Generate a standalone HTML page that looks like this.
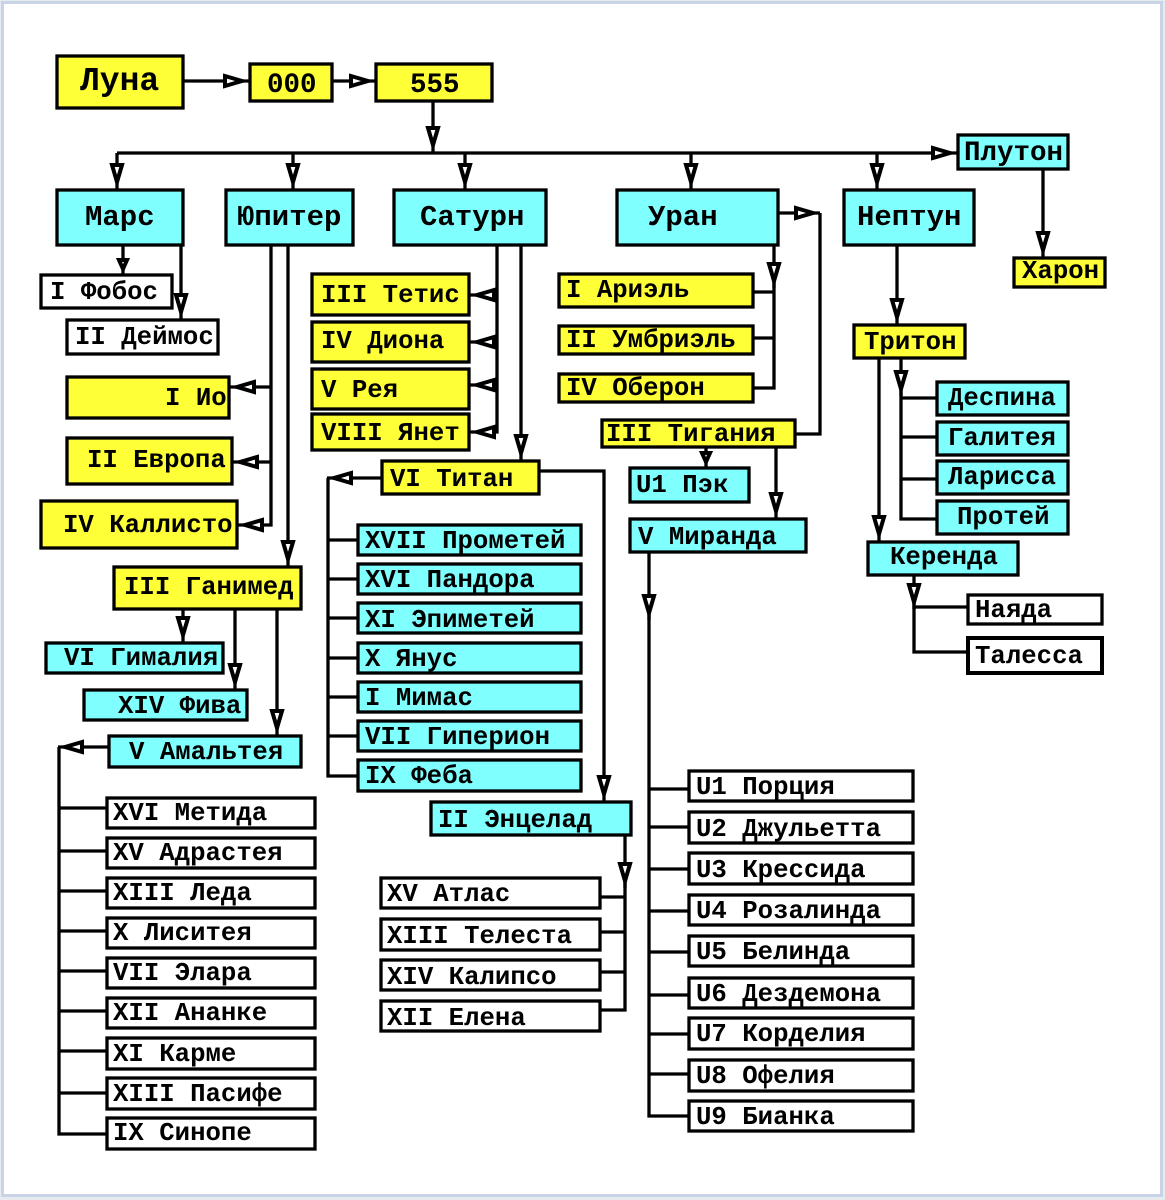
<!DOCTYPE html>
<html><head><meta charset="utf-8"><title>Diagram</title>
<style>
html,body{margin:0;padding:0;background:#fff;width:1165px;height:1200px;overflow:hidden}
svg{display:block}
text{font-family:"Liberation Mono",monospace;font-weight:bold;font-size:25.7px;fill:#000;white-space:pre}
.y,.c,.w{stroke:#000;stroke-width:3.3}
.y{fill:#ffff38}.c{fill:#80ffff}.w{fill:#fff}
.l{fill:none;stroke:#000;stroke-width:3.3}
.a{marker-end:url(#m)}
.s{marker-end:url(#n)}
</style></head><body>
<svg width="1165" height="1200" viewBox="0 0 1165 1200" xmlns="http://www.w3.org/2000/svg">
<defs>
<marker id="m" markerUnits="userSpaceOnUse" markerWidth="32" markerHeight="20" viewBox="0 0 32 20" refX="27" refY="10" orient="auto" overflow="visible"><polygon points="3,5 20,10 3,15" fill="#fff" stroke="#000" stroke-width="4" stroke-miterlimit="12"/></marker>
<marker id="n" markerUnits="userSpaceOnUse" markerWidth="24" markerHeight="20" viewBox="0 0 24 20" refX="17" refY="10" orient="auto" overflow="visible"><polygon points="3,6 12,10 3,14" fill="#fff" stroke="#000" stroke-width="4" stroke-miterlimit="12"/></marker>
</defs>
<rect x="0" y="0" width="1165" height="1200" fill="#e6ebf0"/>
<rect x="2.5" y="2.5" width="1159" height="1193" fill="#fff" stroke="#c9d3e8" stroke-width="3"/>

<!-- connectors -->
<g class="l">
<path class="a" d="M183 81H249"/>
<path class="a" d="M332 81H375"/>
<path class="a" d="M433 101V152"/>
<path class="a" d="M117 153V189"/>
<path class="a" d="M117 153H957"/>
<path class="a" d="M293 153V189"/>
<path class="a" d="M465 153V189"/>
<path class="a" d="M691 153V189"/>
<path class="a" d="M877 153V189"/>
<path class="a" d="M1043 169V257"/>
<path class="s" d="M123 245V274"/>
<path class="a" d="M181 245V319"/>
<path class="a" d="M271 245V525H238"/>
<path class="a" d="M271 387H230"/>
<path class="a" d="M271 462H233"/>
<path class="a" d="M288 245V566"/>
<path class="a" d="M183 609V642"/>
<path class="a" d="M235 609V689"/>
<path class="a" d="M277 609V735"/>
<path class="a" d="M108 747H58"/>
<path d="M59 747V1134H107M59 808H107M59 851H107M59 891H107M59 931H107M59 971H107M59 1011H107M59 1051H107M59 1093H107"/>
<path class="a" d="M497 245V432H470"/>
<path class="a" d="M497 295H470"/>
<path class="a" d="M497 342H470"/>
<path class="a" d="M497 385H470"/>
<path class="a" d="M521 245V460"/>
<path class="a" d="M381 478H327"/>
<path d="M328 478V776H358M328 540H358M328 579H358M328 618H358M328 658H358M328 697H358M328 736H358"/>
<path class="a" d="M539 471H604V801"/>
<path d="M625 880V1010H600M625 897H600M625 932H600M625 972H600"/>
<path class="a" d="M625 835V888"/>
<path d="M820 213V434H795"/>
<path class="a" d="M778 213H820"/>
<path d="M774 280V388H753M774 292H753M774 338H753"/>
<path class="a" d="M774 245V288"/>
<path class="s" d="M706 447V467"/>
<path class="a" d="M776 447V518"/>
<path d="M649 610V1116H689M649 789H689M649 827H689M649 869H689M649 911H689M649 952H689M649 995H689M649 1034H689M649 1074H689"/>
<path class="a" d="M649 552V620"/>
<path class="a" d="M897 245V324"/>
<path class="a" d="M879 358V541"/>
<path d="M901 385V519H937M901 398H937M901 437H937M901 479H937"/>
<path class="a" d="M901 358V396"/>
<path d="M914 600V652H968M914 607H968"/>
<path class="a" d="M914 575V609"/>
</g>

<!-- boxes -->
<rect class="y" x="57" y="56" width="126" height="52"/>
<rect class="y" x="250" y="64" width="82" height="37"/>
<rect class="y" x="376" y="64" width="116" height="37"/>
<rect class="c" x="57" y="190" width="126" height="55"/>
<rect class="c" x="226" y="190" width="127" height="55"/>
<rect class="c" x="394" y="190" width="152" height="55"/>
<rect class="c" x="617" y="190" width="161" height="55"/>
<rect class="c" x="844" y="190" width="130" height="55"/>
<rect class="c" x="958" y="135" width="110" height="34"/>
<rect class="y" x="1014" y="258" width="91" height="29"/>
<rect class="w" x="41" y="275" width="131" height="33"/>
<rect class="w" x="67" y="320" width="151" height="34"/>
<rect class="y" x="67" y="377" width="162" height="41"/>
<rect class="y" x="67" y="438" width="165" height="46"/>
<rect class="y" x="41" y="501" width="196" height="47"/>
<rect class="y" x="114" y="567" width="187" height="42"/>
<rect class="c" x="46" y="643" width="177" height="30"/>
<rect class="c" x="84" y="690" width="163" height="30"/>
<rect class="c" x="109" y="736" width="192" height="31"/>
<rect class="w" x="107" y="798" width="208" height="30"/>
<rect class="w" x="107" y="838" width="208" height="30"/>
<rect class="w" x="107" y="878" width="208" height="30"/>
<rect class="w" x="107" y="918" width="208" height="30"/>
<rect class="w" x="107" y="958" width="208" height="30"/>
<rect class="w" x="107" y="998" width="208" height="30"/>
<rect class="w" x="107" y="1038" width="208" height="31"/>
<rect class="w" x="107" y="1078" width="208" height="31"/>
<rect class="w" x="107" y="1118" width="208" height="31"/>
<rect class="y" x="312" y="274" width="157" height="41"/>
<rect class="y" x="312" y="322" width="157" height="40"/>
<rect class="y" x="312" y="369" width="157" height="40"/>
<rect class="y" x="312" y="414" width="157" height="36"/>
<rect class="y" x="382" y="461" width="157" height="33"/>
<rect class="c" x="358" y="525" width="223" height="30"/>
<rect class="c" x="358" y="564" width="223" height="30"/>
<rect class="c" x="358" y="603" width="223" height="30"/>
<rect class="c" x="358" y="643" width="223" height="30"/>
<rect class="c" x="358" y="682" width="223" height="30"/>
<rect class="c" x="358" y="721" width="223" height="30"/>
<rect class="c" x="358" y="760" width="223" height="31"/>
<rect class="c" x="431" y="802" width="200" height="33"/>
<rect class="w" x="381" y="878" width="219" height="30"/>
<rect class="w" x="381" y="919" width="219" height="31"/>
<rect class="w" x="381" y="960" width="219" height="30"/>
<rect class="w" x="381" y="1001" width="219" height="30"/>
<rect class="y" x="559" y="274" width="194" height="33"/>
<rect class="y" x="559" y="326" width="194" height="28"/>
<rect class="y" x="559" y="374" width="194" height="28"/>
<rect class="y" x="602" y="420" width="193" height="27"/>
<rect class="c" x="630" y="468" width="119" height="34"/>
<rect class="c" x="630" y="519" width="176" height="33"/>
<rect class="w" x="689" y="771" width="224" height="30"/>
<rect class="w" x="689" y="812" width="224" height="31"/>
<rect class="w" x="689" y="853" width="224" height="31"/>
<rect class="w" x="689" y="895" width="224" height="30"/>
<rect class="w" x="689" y="936" width="224" height="30"/>
<rect class="w" x="689" y="978" width="224" height="30"/>
<rect class="w" x="689" y="1018" width="224" height="31"/>
<rect class="w" x="689" y="1060" width="224" height="31"/>
<rect class="w" x="689" y="1101" width="224" height="30"/>
<rect class="y" x="854" y="325" width="111" height="33"/>
<rect class="c" x="937" y="382" width="131" height="33"/>
<rect class="c" x="937" y="422" width="131" height="33"/>
<rect class="c" x="937" y="461" width="131" height="33"/>
<rect class="c" x="937" y="501" width="131" height="33"/>
<rect class="c" x="868" y="542" width="150" height="33"/>
<rect class="w" x="968" y="595" width="134" height="29"/>
<rect class="w" x="968" y="638" width="134" height="35" style="stroke-width:4"/>

<!-- labels -->
<text x="80" y="90" style="font-size:33px">Луна</text>
<text x="267" y="92" style="font-size:27.5px">000</text>
<text x="410" y="92" style="font-size:27.5px">555</text>
<text x="85" y="225" style="font-size:29px">Марс</text>
<text x="237" y="225" style="font-size:29px">Юпитер</text>
<text x="420" y="225" style="font-size:29px">Сатурн</text>
<text x="648" y="225" style="font-size:29px">Уран</text>
<text x="857" y="225" style="font-size:29px">Нептун</text>
<text x="964" y="160" style="font-size:27.5px">Плутон</text>
<text x="1022" y="278">Харон</text>
<text x="50" y="299">I Фобос</text>
<text x="75" y="344">II Деймос</text>
<text x="165" y="405">I Ио</text>
<text x="87" y="467">II Европа</text>
<text x="63" y="532">IV Каллисто</text>
<text x="124" y="594">III Ганимед</text>
<text x="64" y="665">VI Гималия</text>
<text x="118" y="713">XIV Фива</text>
<text x="129" y="759">V Амальтея</text>
<text x="113" y="820">XVI Метида</text>
<text x="113" y="860">XV Адрастея</text>
<text x="113" y="900">XIII Леда</text>
<text x="113" y="940">X Лиситея</text>
<text x="113" y="980">VII Элара</text>
<text x="113" y="1020">XII Ананке</text>
<text x="113" y="1061">XI Карме</text>
<text x="113" y="1101">XIII Пасифе</text>
<text x="113" y="1140">IX Синопе</text>
<text x="321" y="302">III Тетис</text>
<text x="321" y="348">IV Диона</text>
<text x="321" y="397">V Рея</text>
<text x="321" y="440">VIII Янет</text>
<text x="390" y="486">VI Титан</text>
<text x="365" y="548">XVII Прометей</text>
<text x="365" y="587">XVI Пандора</text>
<text x="365" y="627">XI Эпиметей</text>
<text x="365" y="666">X Янус</text>
<text x="365" y="705">I Мимас</text>
<text x="365" y="744">VII Гиперион</text>
<text x="365" y="783">IX Феба</text>
<text x="438" y="827">II Энцелад</text>
<text x="387" y="901">XV Атлас</text>
<text x="387" y="943">XIII Телеста</text>
<text x="387" y="984">XIV Калипсо</text>
<text x="387" y="1025">XII Елена</text>
<text x="566" y="297">I Ариэль</text>
<text x="566" y="347">II Умбриэль</text>
<text x="566" y="395">IV Оберон</text>
<text x="606" y="441">III Тигания</text>
<text x="636" y="492">U1 Пэк</text>
<text x="638" y="544">V Миранда</text>
<text x="696" y="794">U1 Порция</text>
<text x="696" y="836">U2 Джульетта</text>
<text x="696" y="877">U3 Крессида</text>
<text x="696" y="918">U4 Розалинда</text>
<text x="696" y="959">U5 Белинда</text>
<text x="696" y="1001">U6 Дездемона</text>
<text x="696" y="1041">U7 Корделия</text>
<text x="696" y="1083">U8 Офелия</text>
<text x="696" y="1124">U9 Бианка</text>
<text x="864" y="349">Тритон</text>
<text x="948" y="405">Деспина</text>
<text x="948" y="445">Галитея</text>
<text x="948" y="484">Ларисса</text>
<text x="957" y="524">Протей</text>
<text x="890" y="564">Керенда</text>
<text x="975" y="617">Наяда</text>
<text x="975" y="663">Талесса</text>
</svg>
</body></html>
